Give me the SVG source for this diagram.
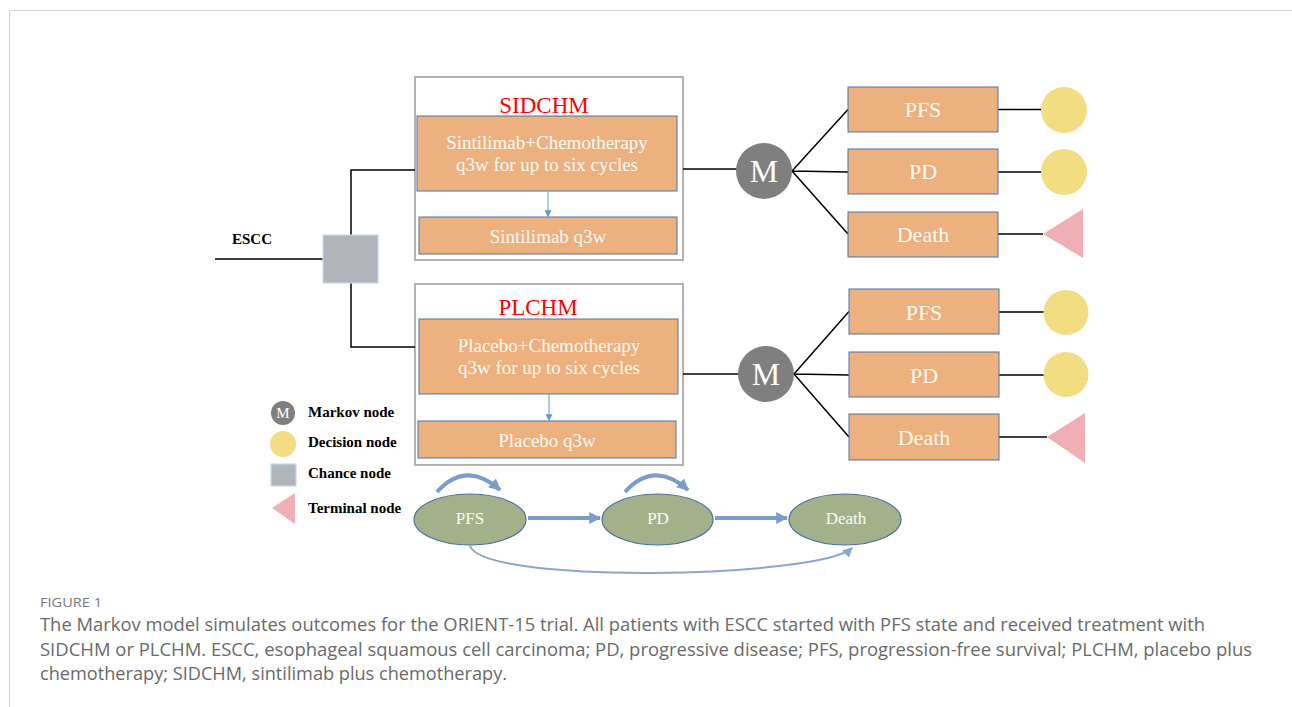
<svg xmlns="http://www.w3.org/2000/svg" width="1292" height="707" viewBox="0 0 1292 707">
<defs>
<style>
.frame{fill:none;stroke:#d0d0d0;stroke-width:1}
.outer{fill:none;stroke:#b3b3b3;stroke-width:2}
.box{fill:#edb07f;stroke:#4a77a8;stroke-width:1}
.bt{font-family:"Liberation Serif",serif;fill:#fffaf2;text-anchor:middle}
.red{font-family:"Liberation Serif",serif;fill:#ff0000;font-size:23px;text-anchor:middle}
.ln{fill:none;stroke:#000;stroke-width:1.5}
.mk{fill:#7f7f7f}
.mt{font-family:"Liberation Serif",serif;fill:#fff;font-size:32px;text-anchor:middle}
.dec{fill:#f2dd82}
.term{fill:#f0aeb5}
.ch{fill:#b1b5b9;stroke:#c6dcf0;stroke-width:1.2}
.lg{font-family:"Liberation Serif",serif;font-weight:bold;font-size:15px;fill:#000}
.ell{fill:#a3b18a;stroke:#4a6fa5;stroke-width:1.2}
.et{font-family:"Liberation Serif",serif;fill:#fbfbf4;font-size:17px;text-anchor:middle}
.blk{fill:none;stroke:#7a9dcb;stroke-width:4}
.thin{fill:none;stroke:#8aa6cd;stroke-width:2}
.small{fill:none;stroke:#5b9bd5;stroke-width:1}
.cap{font-family:"Open Sans","Noto Sans",sans-serif;fill:#6a6a6a;font-size:18px}
.fig{font-family:"Open Sans","Noto Sans",sans-serif;fill:#777;font-size:13.5px}
</style>
<marker id="ah" viewBox="0 0 10 10" refX="9" refY="5" markerWidth="3" markerHeight="3" orient="auto" markerUnits="strokeWidth">
<path d="M0,0 L10,5 L0,10 z" fill="#7a9dcb"/>
</marker>
<marker id="ah2" viewBox="0 0 10 10" refX="9" refY="5" markerWidth="5" markerHeight="5" orient="auto" markerUnits="strokeWidth">
<path d="M0,0 L10,5 L0,10 z" fill="#8aa6cd"/>
</marker>
<marker id="ahs" viewBox="0 0 10 10" refX="9" refY="5" markerWidth="7" markerHeight="7" orient="auto" markerUnits="strokeWidth">
<path d="M0,0 L10,5 L0,10 z" fill="#5b9bd5"/>
</marker>
</defs>

<!-- frame -->
<path class="frame" d="M9.5,707 L9.5,10.5 L1292,10.5"/>

<!-- upper arm -->
<g id="sidchm">
<rect class="outer" x="415" y="77" width="268" height="183"/>
<text class="red" x="544" y="113">SIDCHM</text>
</g>
<g id="sid-chemo">
<rect class="box" x="417" y="116" width="260" height="75"/>
<text class="bt" font-size="19" x="547" y="149">Sintilimab+Chemotherapy</text>
<text class="bt" font-size="19" x="547" y="171">q3w for up to six cycles</text>
</g>
<g id="sid-maint">
<rect class="box" x="419" y="217" width="258" height="37"/>
<text class="bt" font-size="19" x="548" y="243">Sintilimab q3w</text>
</g>

<!-- lower arm -->
<g id="plchm">
<rect class="outer" x="415" y="284" width="268" height="181"/>
<text class="red" x="538" y="315">PLCHM</text>
</g>
<g id="pl-chemo">
<rect class="box" x="419" y="319" width="259" height="75"/>
<text class="bt" font-size="19" x="549" y="352">Placebo+Chemotherapy</text>
<text class="bt" font-size="19" x="549" y="374">q3w for up to six cycles</text>
</g>
<g id="pl-maint">
<rect class="box" x="418" y="421" width="258" height="37"/>
<text class="bt" font-size="19" x="547" y="447">Placebo q3w</text>
</g>

<!-- connectors -->
<g id="connectors">
<path class="ln" d="M215,259 L323,259"/>
<path class="ln" d="M351,235 L351,170 L415,170"/>
<path class="ln" d="M351,283 L351,347 L415,347"/>
<path class="ln" d="M683,169 L737,169"/>
<path class="ln" d="M683,374 L738,374"/>
<path class="ln" d="M792,171 L848,109.5 M792,171 L848,172 M792,171 L848,234"/>
<path class="ln" d="M794,374 L849,311.5 M794,374 L849,375 M794,374 L849,437"/>
<path class="ln" d="M998,109.5 L1042,109.5 M998,172 L1042,172 M998,234 L1043,234"/>
<path class="ln" d="M999,312 L1044,312 M999,375 L1044,375 M999,437 L1047,437"/>
<path class="small" d="M548,191.5 L548,216.5" marker-end="url(#ahs)"/>
<path class="small" d="M549,394.5 L549,420.5" marker-end="url(#ahs)"/>
<path class="blk" d="M528,518 L600,518" marker-end="url(#ah)"/>
<path class="blk" d="M715,518 L787,518" marker-end="url(#ah)"/>
<path class="blk" d="M437,492 Q466,460 500,490" marker-end="url(#ah)"/>
<path class="blk" d="M625,492 Q654,460 688,490" marker-end="url(#ah)"/>
<path class="thin" d="M470,546 C485,585 820,578 852,548" marker-end="url(#ah2)"/>
</g>

<!-- root -->
<g id="escc">
<text class="lg" x="232" y="244">ESCC</text>
</g>
<g id="chance">
<rect class="ch" x="323" y="235" width="55" height="48"/>
</g>

<!-- Markov nodes -->
<g id="m1">
<circle class="mk" cx="764" cy="171" r="28"/>
<text class="mt" x="764" y="182">M</text>
</g>
<g id="m2">
<circle class="mk" cx="766" cy="374" r="28"/>
<text class="mt" x="766" y="385">M</text>
</g>

<!-- upper states -->
<g id="u-pfs"><rect class="box" x="848" y="87" width="150" height="45"/><text class="bt" font-size="22" x="923" y="117">PFS</text></g>
<g id="u-pd"><rect class="box" x="848" y="149" width="150" height="45"/><text class="bt" font-size="22" x="923" y="179">PD</text></g>
<g id="u-death"><rect class="box" x="848" y="212" width="150" height="45"/><text class="bt" font-size="22" x="923" y="242">Death</text></g>
<g id="u-d1"><circle class="dec" cx="1064" cy="110" r="23"/></g>
<g id="u-d2"><circle class="dec" cx="1064" cy="172" r="23"/></g>
<g id="u-t"><polygon class="term" points="1043,234 1083,209 1083,258"/></g>

<!-- lower states -->
<g id="l-pfs"><rect class="box" x="849" y="289" width="150" height="45"/><text class="bt" font-size="22" x="924" y="320">PFS</text></g>
<g id="l-pd"><rect class="box" x="849" y="352" width="150" height="45"/><text class="bt" font-size="22" x="924" y="383">PD</text></g>
<g id="l-death"><rect class="box" x="849" y="414" width="150" height="46"/><text class="bt" font-size="22" x="924" y="445">Death</text></g>
<g id="l-d1"><circle class="dec" cx="1066" cy="312.5" r="22.5"/></g>
<g id="l-d2"><circle class="dec" cx="1066" cy="374.5" r="22.5"/></g>
<g id="l-t"><polygon class="term" points="1047,437 1085,413 1085,463"/></g>

<!-- legend -->
<g id="legend">
<circle class="mk" cx="283" cy="413" r="12"/>
<text font-family="Liberation Serif,serif" font-size="15" fill="#fff" text-anchor="middle" x="283" y="418">M</text>
<text class="lg" x="308" y="417">Markov node</text>
<circle class="dec" cx="283" cy="444" r="13"/>
<text class="lg" x="308" y="447">Decision node</text>
<rect class="ch" x="271" y="464" width="25" height="22"/>
<text class="lg" x="308" y="478">Chance node</text>
<polygon class="term" points="272,508 295,493 295,524"/>
<text class="lg" x="308" y="513">Terminal node</text>
</g>

<!-- Markov state diagram -->
<g id="s-pfs"><ellipse class="ell" cx="470" cy="519.5" rx="56" ry="25.5"/><text class="et" x="470" y="524">PFS</text></g>
<g id="s-pd"><ellipse class="ell" cx="657.5" cy="519.5" rx="55.5" ry="25.5"/><text class="et" x="658" y="524">PD</text></g>
<g id="s-death"><ellipse class="ell" cx="845" cy="519.5" rx="56" ry="25.5"/><text class="et" x="846" y="524">Death</text></g>

<!-- caption -->
<g id="caption">
<text class="fig" x="40" y="607" textLength="62" lengthAdjust="spacingAndGlyphs">FIGURE 1</text>
<text class="cap" x="40" y="631" textLength="1165" lengthAdjust="spacingAndGlyphs">The Markov model simulates outcomes for the ORIENT-15 trial. All patients with ESCC started with PFS state and received treatment with</text>
<text class="cap" x="40" y="656" textLength="1212" lengthAdjust="spacingAndGlyphs">SIDCHM or PLCHM. ESCC, esophageal squamous cell carcinoma; PD, progressive disease; PFS, progression-free survival; PLCHM, placebo plus</text>
<text class="cap" x="40" y="680" textLength="467" lengthAdjust="spacingAndGlyphs">chemotherapy; SIDCHM, sintilimab plus chemotherapy.</text>
</g>
</svg>
